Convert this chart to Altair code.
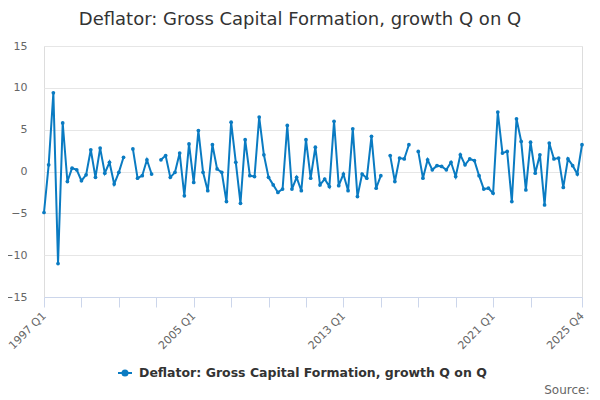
import altair as alt
import pandas as pd

series_name = "Deflator: Gross Capital Formation, growth Q on Q"
years = list(range(1997, 2026))
quarter_names = ["Q1", "Q2", "Q3", "Q4"]
quarters = [f"{y} {q}" for y in years for q in quarter_names]

values = [
    -4.9, 0.8, 9.4, -11.0, 5.8, -1.2, 0.4, 0.2,
    -1.1, -0.4, 2.6, -0.7, 2.8, -0.2, 1.1, -1.5,
    -0.1, 1.7, None, 2.7, -0.8, -0.5, 1.4, -0.3,
    None, 1.4, 1.9, -0.7, -0.1, 2.2, -2.9, 3.3,
    -1.3, 4.9, -0.1, -2.3, 3.2, 0.3, -0.1, -3.6,
    5.9, 1.1, -3.8, 3.8, -0.5, -0.6, 6.5, 2.0,
    -0.7, -1.6, -2.5, -2.1, 5.5, -2.1, -0.7, -2.3,
    3.8, -0.8, 2.9, -1.6, -0.9, -1.8, 6.0, -1.7,
    -0.3, -2.3, 5.1, -3.0, -0.3, -0.8, 4.2, -2.0,
    -0.5, None, 1.9, -1.2, 1.6, 1.5, 3.2, None,
    2.4, -0.8, 1.4, 0.2, 0.7, 0.6, 0.2, 1.1,
    -0.6, 2.0, 0.8, 1.5, 1.3, -0.5, -2.1, -2.0,
    -2.6, 7.1, 2.2, 2.4, -3.6, 6.3, 3.6, -2.2,
    3.5, -0.2, 2.0, -4.0, 3.4, 1.5, 1.6, -1.9,
    1.5, 0.7, -0.3, 3.2,
]

tick_quarters = [f"{y} Q1" for y in range(1997, 2025, 2)] + ["2025 Q4"]
label_quarters = ["1997 Q1", "2005 Q1", "2013 Q1", "2021 Q1", "2025 Q4"]
y_ticks = [-15, -10, -5, 0, 5, 10, 15]

line_color = "#0a7bc2"
font = "DejaVu Sans"

df = pd.DataFrame({"quarter": quarters, "value": values, "series": series_name})

label_list = ",".join(f"'{q}'" for q in label_quarters)
label_expr = f"indexof([{label_list}], datum.label) >= 0 ? datum.label : ''"

legend_path = "M-1,0L1,0M0.36,0A0.36,0.36,0,1,1,-0.36,0A0.36,0.36,0,1,1,0.36,0Z"

chart = (
    alt.Chart(df)
    .mark_line(
        strokeWidth=2,
        invalid="break-paths-show-domains",
        point=alt.OverlayMarkDef(filled=True, size=14, color=line_color),
    )
    .encode(
        x=alt.X(
            "quarter:O",
            sort=quarters,
            scale=alt.Scale(type="point", padding=0),
            axis=alt.Axis(
                values=tick_quarters,
                labelExpr=label_expr,
                labelAngle=-45,
                labelAlign="right",
                labelBaseline="middle",
                labelPadding=7,
                labelFont=font,
                labelFontSize=11,
                labelColor="#666666",
                tickSize=10,
                tickColor="#ccd6eb",
                domainColor="#ccd6eb",
                grid=False,
                title="Source:",
                titleX=545,
                titleY=96,
                titleAlign="right",
                titleBaseline="alphabetic",
                titleFont=font,
                titleFontSize=12,
                titleFontWeight="normal",
                titleColor="#666666",
            ),
        ),
        y=alt.Y(
            "value:Q",
            scale=alt.Scale(domain=[-15, 15], nice=False, zero=False),
            axis=alt.Axis(
                values=y_ticks,
                title=None,
                domain=False,
                ticks=False,
                labelPadding=17,
                labelFont=font,
                labelFontSize=11,
                labelColor="#666666",
                gridColor="#e6e6e6",
                gridWidth=1,
            ),
        ),
        color=alt.Color(
            "series:N",
            scale=alt.Scale(domain=[series_name], range=[line_color]),
            legend=alt.Legend(
                title=None,
                orient="none",
                legendX=73,
                legendY=319,
                padding=0,
                symbolType=legend_path,
                symbolSize=196,
                symbolStrokeWidth=2,
                symbolFillColor=line_color,
                symbolStrokeColor=line_color,
                labelFont=font,
                labelFontSize=12.5,
                labelFontWeight="bold",
                labelColor="#333333",
                labelOffset=6,
                labelLimit=0,
            ),
        ),
    )
    .properties(
        width=538,
        height=251,
        autosize=alt.AutoSizeParams(type="none"),
        padding={"left": 36, "top": 38, "right": 10, "bottom": 100},
        title=alt.TitleParams(
            text="Deflator: Gross Capital Formation, growth Q on Q",
            font=font,
            fontSize=18,
            fontWeight="normal",
            color="#333333",
            anchor="middle",
            dx=-13,
            offset=11,
        ),
    )
    .configure_view(stroke=None)
    .configure(background="white")
)

chart.save("out.html", embed_options={"renderer": "svg", "actions": False})
